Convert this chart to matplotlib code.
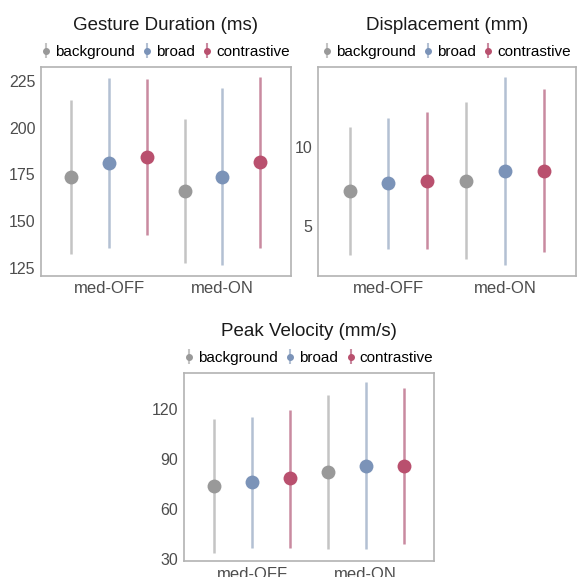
import numpy as np
import matplotlib.pyplot as plt

plt.rcParams['font.family'] = ['Liberation Sans', 'DejaVu Sans']

conditions = ['med-OFF', 'med-ON']
groups = ['background', 'broad', 'contrastive']
dot_colors = ['#999999', '#7b93b8', '#b9506e']
line_colors = ['#c4c4c4', '#b3c0d3', '#c98aa0']

# gesture duration (ms): mean, lower, upper per group, [med-OFF, med-ON]
dur_mean = {'background': [173.5, 166.2], 'broad': [181.0, 173.8], 'contrastive': [184.2, 181.5]}
dur_lo = {'background': [132.5, 127.5], 'broad': [135.5, 126.2], 'contrastive': [142.6, 135.5]}
dur_hi = {'background': [214.8, 204.5], 'broad': [226.4, 221.1], 'contrastive': [225.9, 227.3]}

# displacement (mm)
disp_mean = {'background': [7.25, 7.85], 'broad': [7.69, 8.48], 'contrastive': [7.85, 8.48]}
disp_lo = {'background': [3.23, 2.98], 'broad': [3.6, 2.56], 'contrastive': [3.6, 3.4]}
disp_hi = {'background': [11.25, 12.77], 'broad': [11.77, 14.38], 'contrastive': [12.15, 13.59]}

# peak velocity (mm/s)
vel_mean = {'background': [73.8, 81.8], 'broad': [75.8, 85.8], 'contrastive': [78.2, 85.8]}
vel_lo = {'background': [33.6, 35.7], 'broad': [36.6, 35.7], 'contrastive': [36.6, 38.7]}
vel_hi = {'background': [114.0, 128.6], 'broad': [115.4, 136.4], 'contrastive': [119.4, 132.6]}

W = H = 577.0


def box(x0, y0, x1, y1):
    # pixel box -> figure fraction
    return [x0 / W, 1 - y1 / H, (x1 - x0) / W, (y1 - y0) / H]


def panel(ax, title, mean, lo, hi, yticks, ylim):
    x = np.arange(1, len(conditions) + 1)
    offs = [-0.333, 0.0, 0.333]
    handles = []
    for g, off, dc, lc in zip(groups, offs, dot_colors, line_colors):
        xs = x + off
        ax.vlines(xs, lo[g], hi[g], color=lc, lw=1.8, zorder=1)
        ax.plot(xs, mean[g], 'o', ms=10, color=dc, mec='none', zorder=2)
        h = ax.errorbar([np.nan], [np.nan], yerr=[[1], [1]], fmt='o', ms=4,
                        color=dc, ecolor=lc, elinewidth=1.5, label=g)
        handles.append(h)
    ax.set_xlim(0.4, 2.6)
    ax.set_ylim(*ylim)
    ax.set_xticks(x)
    ax.set_xticklabels(conditions, fontsize=12)
    ax.set_yticks(yticks)
    ax.tick_params(length=0, colors='#4d4d4d', pad=4)
    ax.tick_params(axis='y', labelsize=11.5)
    for s in ax.spines.values():
        s.set_color('#b3b3b3')
        s.set_linewidth(1.2)
    ax.set_title(title, fontsize=13.5, pad=27, color='#1a1a1a')
    ax.legend(handles=handles, loc='lower center', bbox_to_anchor=(0.5, 0.995),
              ncol=3, frameon=False, fontsize=11, handlelength=0.6,
              handletextpad=0.3, columnspacing=0.5, borderaxespad=0.2)


fig = plt.figure(figsize=(5.77, 5.77), dpi=100)

ax1 = fig.add_axes(box(41, 67, 290.5, 275.7))
panel(ax1, 'Gesture Duration (ms)', dur_mean, dur_lo, dur_hi,
      [125, 150, 175, 200, 225], (120.7, 232.5))

ax2 = fig.add_axes(box(318.3, 67, 575.5, 275.7))
panel(ax2, 'Displacement (mm)', disp_mean, disp_lo, disp_hi,
      [5, 10], (1.92, 14.98))

ax3 = fig.add_axes(box(184, 373.3, 434, 561))
panel(ax3, 'Peak Velocity (mm/s)', vel_mean, vel_lo, vel_hi,
      [30, 60, 90, 120], (28.6, 141.4))

fig.savefig('out.png', dpi=100)
